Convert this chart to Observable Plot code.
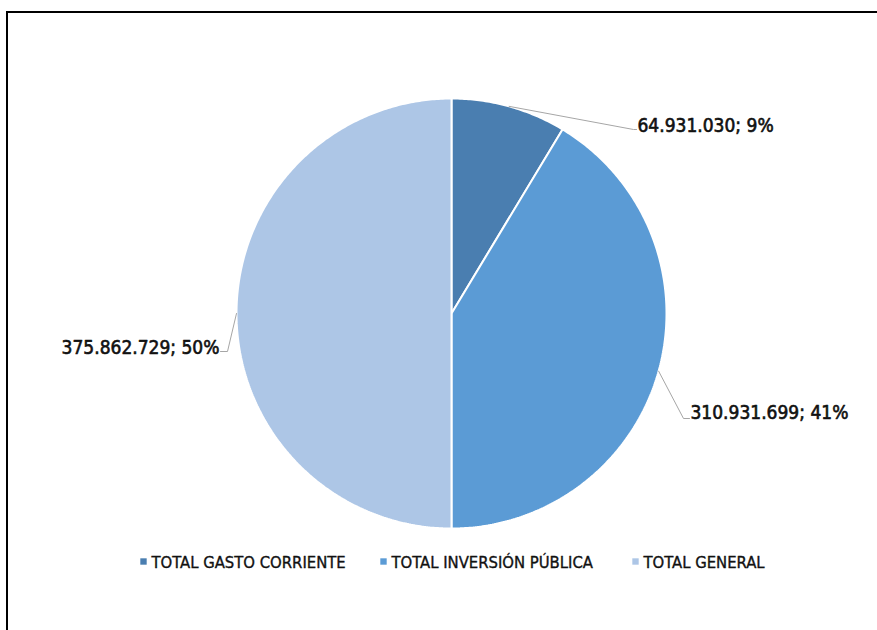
<!DOCTYPE html>
<html>
<head>
<meta charset="utf-8">
<script src="https://cdn.jsdelivr.net/npm/d3@7"></script>
<script src="https://cdn.jsdelivr.net/npm/@observablehq/plot@0.6"></script>
<style>
  html, body { margin: 0; padding: 0; background: #fff; }
  #wrap { position: relative; width: 877px; height: 630px; overflow: hidden; }
  #frame { position: absolute; left: 6px; top: 11px; width: 900px; height: 700px;
           border-left: 2px solid #000; border-top: 2px solid #000; pointer-events: none; }
</style>
</head>
<body>
<div id="wrap"><div id="frame"></div><div id="chart"></div></div>
<script>
// ---- data ----
const categories = ["TOTAL GASTO CORRIENTE", "TOTAL INVERSIÓN PÚBLICA", "TOTAL GENERAL"];
const values = [64931030, 310931699, 375862729];
const colors = ["#4A7EB0", "#5B9BD5", "#ADC6E6"];

// ---- layout ----
const W = 877, H = 630;
const cx = 451, cy = 313, R = 215;
// label text anchor points and leader elbows (pixel layout)
const labelPos = [
  {tx: 637, ty: 131, anchor: "start", elbow: [633, 129], end: [636, 129]},
  {tx: 690, ty: 418, anchor: "start", elbow: [683, 418], end: [689, 418]},
  {tx: 219, ty: 353, anchor: "end",   elbow: [227, 351], end: [220, 351]}
];
const legendPos = [
  {x: 143, y: 561}, {x: 383, y: 561}, {x: 635, y: 561}
];

const loc = d3.formatLocale({thousands: ".", decimal: ",", grouping: [3], currency: ["", ""]});
const fmt = loc.format(",d");
const total = d3.sum(values);

const pie = d3.pie().sort(null).value(d => d.value);
const arcs = pie(categories.map((c, i) => ({cat: c, value: values[i], i})));

// slice polygons: center -> arc -> center
const slicePts = [];
arcs.forEach(a => {
  const n = Math.max(8, Math.ceil((a.endAngle - a.startAngle) / 0.01));
  slicePts.push({i: a.data.i, x: cx, y: cy});
  for (let k = 0; k <= n; k++) {
    const t = a.startAngle + (a.endAngle - a.startAngle) * k / n;
    slicePts.push({i: a.data.i, x: cx + R * Math.sin(t), y: cy - R * Math.cos(t)});
  }
  slicePts.push({i: a.data.i, x: cx, y: cy});
});

// leader lines
const leaderPts = [];
arcs.forEach((a, j) => {
  const m = (a.startAngle + a.endAngle) / 2;
  const lp = labelPos[j];
  leaderPts.push({i: j, x: cx + R * Math.sin(m), y: cy - R * Math.cos(m)});
  leaderPts.push({i: j, x: lp.elbow[0], y: lp.elbow[1]});
  leaderPts.push({i: j, x: lp.end[0], y: lp.end[1]});
});

const labels = arcs.map((a, j) => ({
  x: labelPos[j].tx, y: labelPos[j].ty, anchor: labelPos[j].anchor,
  text: fmt(a.data.value) + "; " + Math.round(100 * a.data.value / total) + "%"
}));

const legend = categories.map((c, i) => ({cat: c, color: colors[i], x: legendPos[i].x, y: legendPos[i].y}));

const font = "'DejaVu Sans Condensed', 'DejaVu Sans', sans-serif";

const marks = [];
categories.forEach((c, i) => {
  marks.push(Plot.line(slicePts.filter(d => d.i === i), {
    x: "x", y: "y", fill: colors[i], stroke: "#fff", strokeWidth: 2, strokeLinejoin: "miter", curve: "linear"
  }));
});
marks.push(Plot.line(leaderPts, {x: "x", y: "y", z: "i", stroke: "#a6a6a6", strokeWidth: 1}));
labels.forEach(l => {
  marks.push(Plot.text([l], {x: "x", y: "y", text: "text", textAnchor: l.anchor, lineAnchor: "bottom",
    fontSize: 19, fill: "#111", stroke: "#111", strokeWidth: 0.6}));
});
marks.push(Plot.dot(legend, {x: "x", y: "y", symbol: "square", r: 3.6, fill: "color", stroke: null}));
marks.push(Plot.text(legend, {x: d => d.x + 8, y: d => d.y + 1, text: "cat", textAnchor: "start",
  fontSize: 16.5, fill: "#111", stroke: "#111", strokeWidth: 0.35}));

const chart = Plot.plot({
  width: W, height: H,
  margin: 0,
  x: {domain: [0, W], range: [0, W], axis: null},
  y: {domain: [0, H], range: [0, H], axis: null},
  color: {type: "identity"},
  style: {fontFamily: font, background: "transparent"},
  marks
});
document.getElementById("chart").appendChild(chart);
</script>
</body>
</html>
